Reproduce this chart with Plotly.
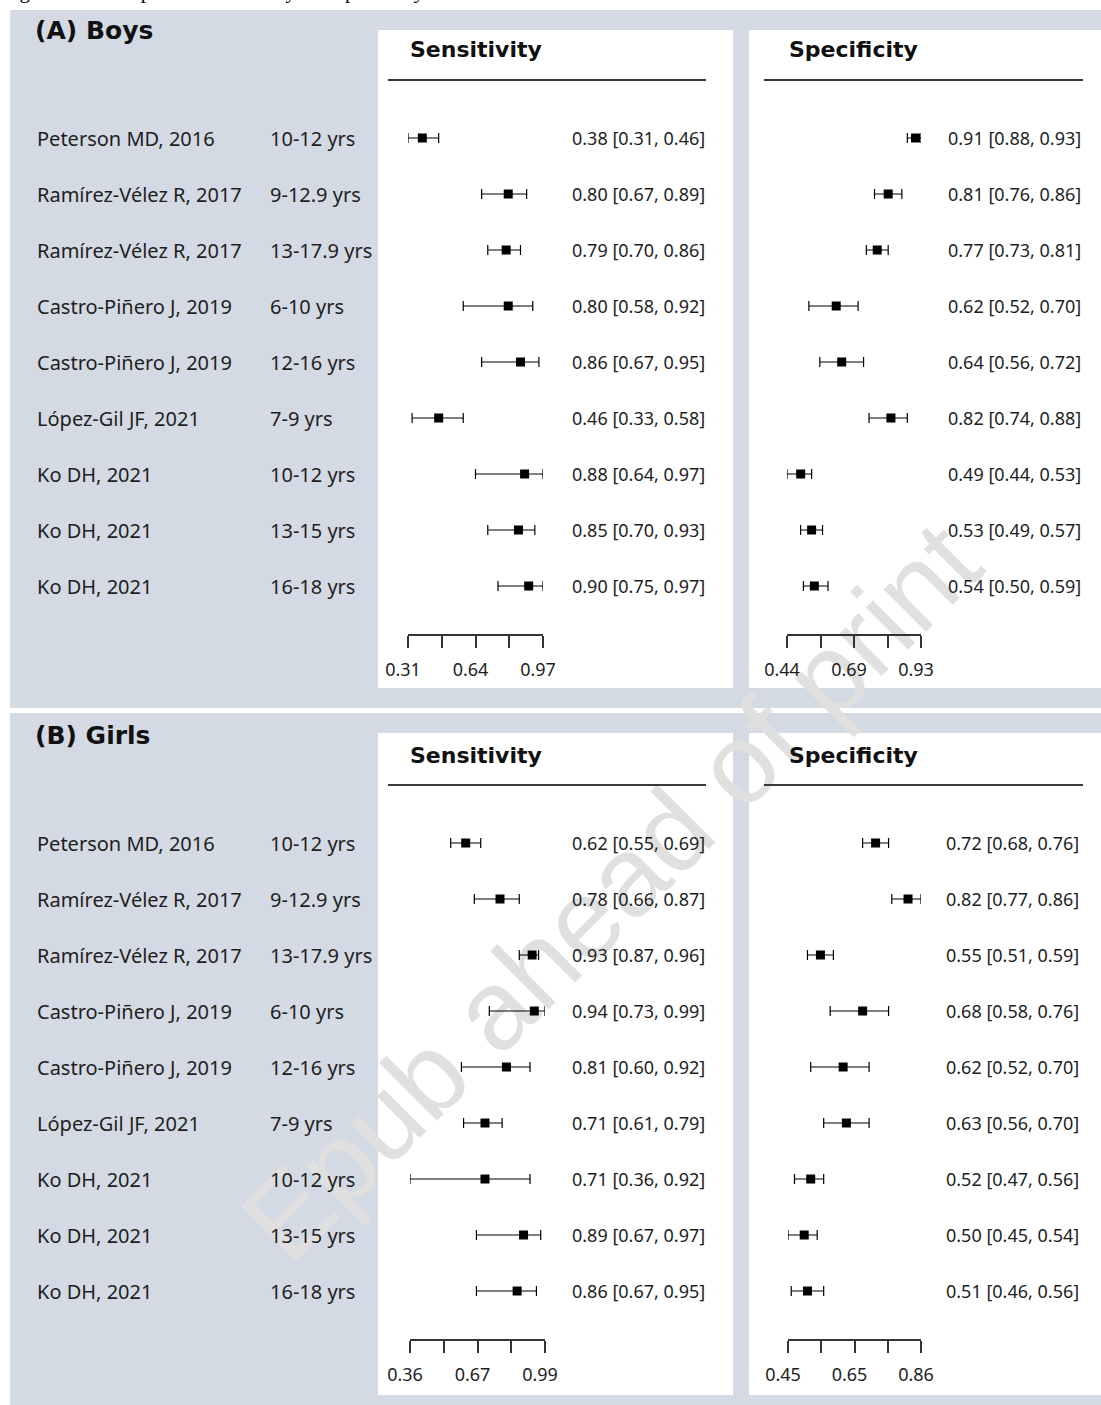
import numpy as np
import plotly.graph_objects as go

W, H = 1101, 1405

# ---- data -------------------------------------------------------------
studies = ["Peterson MD, 2016", "Ramírez-Vélez R, 2017", "Ramírez-Vélez R, 2017",
           "Castro-Piñero J, 2019", "Castro-Piñero J, 2019", "López-Gil JF, 2021",
           "Ko DH, 2021", "Ko DH, 2021", "Ko DH, 2021"]
ages = ["10-12 yrs", "9-12.9 yrs", "13-17.9 yrs", "6-10 yrs", "12-16 yrs",
        "7-9 yrs", "10-12 yrs", "13-15 yrs", "16-18 yrs"]

boys_sens_est = [0.38, 0.80, 0.79, 0.80, 0.86, 0.46, 0.88, 0.85, 0.90]
boys_sens_lo = [0.31, 0.67, 0.70, 0.58, 0.67, 0.33, 0.64, 0.70, 0.75]
boys_sens_hi = [0.46, 0.89, 0.86, 0.92, 0.95, 0.58, 0.97, 0.93, 0.97]

boys_spec_est = [0.91, 0.81, 0.77, 0.62, 0.64, 0.82, 0.49, 0.53, 0.54]
boys_spec_lo = [0.88, 0.76, 0.73, 0.52, 0.56, 0.74, 0.44, 0.49, 0.50]
boys_spec_hi = [0.93, 0.86, 0.81, 0.70, 0.72, 0.88, 0.53, 0.57, 0.59]

girls_sens_est = [0.62, 0.78, 0.93, 0.94, 0.81, 0.71, 0.71, 0.89, 0.86]
girls_sens_lo = [0.55, 0.66, 0.87, 0.73, 0.60, 0.61, 0.36, 0.67, 0.67]
girls_sens_hi = [0.69, 0.87, 0.96, 0.99, 0.92, 0.79, 0.92, 0.97, 0.95]

girls_spec_est = [0.72, 0.82, 0.55, 0.68, 0.62, 0.63, 0.52, 0.50, 0.51]
girls_spec_lo = [0.68, 0.77, 0.51, 0.58, 0.52, 0.56, 0.47, 0.45, 0.46]
girls_spec_hi = [0.76, 0.86, 0.59, 0.76, 0.70, 0.70, 0.56, 0.54, 0.56]

boys_sens_ticklabels = ["0.31", "0.64", "0.97"]
boys_spec_ticklabels = ["0.44", "0.69", "0.93"]
girls_sens_ticklabels = ["0.36", "0.67", "0.99"]
girls_spec_ticklabels = ["0.45", "0.65", "0.86"]

# ---- layout helpers ---------------------------------------------------
def px(x):
    return x / W


def py(y):
    return 1 - y / H


GRAY = "#d4dae3"
INK = "#1e1e1e"
LABEL_FONT = "Noto Sans"
BOLD_FONT = "DejaVu Sans"
ROW_STEP = 56
N = len(studies)

panels = [
    dict(est=boys_sens_est, lo=boys_sens_lo, hi=boys_sens_hi, labels=boys_sens_ticklabels,
         x0=408, x1=543, row0=138, axis=634, text_x=570),
    dict(est=boys_spec_est, lo=boys_spec_lo, hi=boys_spec_hi, labels=boys_spec_ticklabels,
         x0=787, x1=921, row0=138, axis=634, text_x=946),
    dict(est=girls_sens_est, lo=girls_sens_lo, hi=girls_sens_hi, labels=girls_sens_ticklabels,
         x0=410, x1=545, row0=843, axis=1339, text_x=570),
    dict(est=girls_spec_est, lo=girls_spec_lo, hi=girls_spec_hi, labels=girls_spec_ticklabels,
         x0=788, x1=921, row0=843, axis=1339, text_x=944),
]

fig = go.Figure()
layout = dict(
    width=W, height=H, autosize=False,
    margin=dict(l=0, r=0, t=0, b=0, pad=0, autoexpand=False),
    paper_bgcolor="white",
    plot_bgcolor="rgba(0,0,0,0)",
    showlegend=False,
)

shapes = []
annotations = []

# caption line running off the top of the page
annotations.append(dict(
    text="Figure 2. Forest plots of sensitivity and specificity",
    x=0, y=py(5), xref="paper", yref="paper", xanchor="left", yanchor="bottom",
    showarrow=False, font=dict(family="Liberation Serif", size=21, color="black"),
))

# section backgrounds
for top, bottom in [(10, 708), (713, 1405)]:
    shapes.append(dict(type="rect", xref="paper", yref="paper", layer="below",
                       x0=px(10), x1=1, y0=py(bottom), y1=py(top),
                       fillcolor=GRAY, line=dict(width=0)))
# white plot cards
for top, bottom in [(30, 688), (733, 1395)]:
    for left, right in [(378, 733), (749, 1101)]:
        shapes.append(dict(type="rect", xref="paper", yref="paper", layer="below",
                           x0=px(left), x1=px(right), y0=py(bottom), y1=py(top),
                           fillcolor="white", line=dict(width=0)))

# watermark
cx, cy, half = 603, 884, 370
shapes.append(dict(
    type="line", xref="paper", yref="paper", layer="below",
    x0=px(cx - half), y0=py(cy + half), x1=px(cx + half), y1=py(cy - half),
    line=dict(color="rgba(0,0,0,0)", width=0),
    label=dict(text="Epub ahead of print", textposition="middle", yanchor="middle",
               font=dict(family="Liberation Sans", size=113, color="#e0e0e0")),
))

# section titles and column headers
for title, top in [("(A) Boys", 0), ("(B) Girls", 705)]:
    annotations.append(dict(
        text=title, x=px(33), y=py(30 + top), xref="paper", yref="paper",
        xanchor="left", yanchor="middle", showarrow=False,
        font=dict(family=BOLD_FONT, size=25, color="#111", weight="bold"),
    ))
    for head, hx, r0, r1 in [("Sensitivity", 408, 388, 706), ("Specificity", 787, 764, 1083)]:
        annotations.append(dict(
            text=head, x=px(hx), y=py(50 + top), xref="paper", yref="paper",
            xanchor="left", yanchor="middle", showarrow=False,
            font=dict(family=BOLD_FONT, size=22, color="#111", weight="bold"),
        ))
        shapes.append(dict(type="line", xref="paper", yref="paper",
                           x0=px(r0), x1=px(r1), y0=py(80 + top), y1=py(80 + top),
                           line=dict(color="#3a3a3a", width=2)))

for k, p in enumerate(panels, start=1):
    xa = "xaxis" if k == 1 else f"xaxis{k}"
    ya = "yaxis" if k == 1 else f"yaxis{k}"
    xr = "x" if k == 1 else f"x{k}"
    yr = "y" if k == 1 else f"y{k}"

    lo_v, hi_v = min(p["lo"]), max(p["hi"])
    tickvals = list(np.linspace(lo_v, hi_v, 5))
    ticktext = [p["labels"][0], "", p["labels"][1], "", p["labels"][2]]

    top_px = p["row0"] - 30
    y_top = -(p["row0"] - top_px) / ROW_STEP
    y_bot = (N - 1) + (p["axis"] - p["row0"] - (N - 1) * ROW_STEP) / ROW_STEP

    layout[xa] = dict(
        domain=[px(p["x0"]), px(p["x1"])], range=[lo_v, hi_v], anchor=yr,
        automargin=False,
        showgrid=False, zeroline=False, showline=True, linewidth=2, linecolor="#333",
        ticks="outside", ticklen=12, tickwidth=2, tickcolor="#333",
        tickvals=tickvals, ticktext=ticktext, ticklabelshift=-5, ticklabelstandoff=6,
        tickfont=dict(family=LABEL_FONT, size=18, color=INK), fixedrange=True,
    )
    layout[ya] = dict(
        domain=[py(p["axis"]), py(top_px)], range=[y_bot, y_top], anchor=xr,
        visible=False, automargin=False, fixedrange=True,
    )

    est = np.array(p["est"])
    lo = np.array(p["lo"])
    hi = np.array(p["hi"])
    rows = list(range(N))
    fig.add_trace(go.Scatter(
        x=est, y=rows, xaxis=xr, yaxis=yr, mode="markers",
        marker=dict(symbol="square", size=9, color="black"),
        error_x=dict(type="data", symmetric=False, array=hi - est, arrayminus=est - lo,
                     color="black", thickness=1.2, width=5),
        hoverinfo="skip",
    ))

    for i in rows:
        annotations.append(dict(
            text=f"{p['est'][i]:.2f} [{p['lo'][i]:.2f}, {p['hi'][i]:.2f}]",
            x=px(p["text_x"]), y=i, xref="paper", yref=yr,
            xanchor="left", yanchor="middle", showarrow=False,
            font=dict(family=LABEL_FONT, size=18, color=INK),
        ))
        if k in (1, 3):
            annotations.append(dict(
                text=studies[i], x=px(35), y=i, xref="paper", yref=yr,
                xanchor="left", yanchor="middle", showarrow=False,
                font=dict(family=LABEL_FONT, size=20, color=INK),
            ))
            annotations.append(dict(
                text=ages[i], x=px(268), y=i, xref="paper", yref=yr,
                xanchor="left", yanchor="middle", showarrow=False,
                font=dict(family=LABEL_FONT, size=20, color=INK),
            ))

layout["shapes"] = shapes
layout["annotations"] = annotations
fig.update_layout(**layout)
fig.write_html("out.html")
